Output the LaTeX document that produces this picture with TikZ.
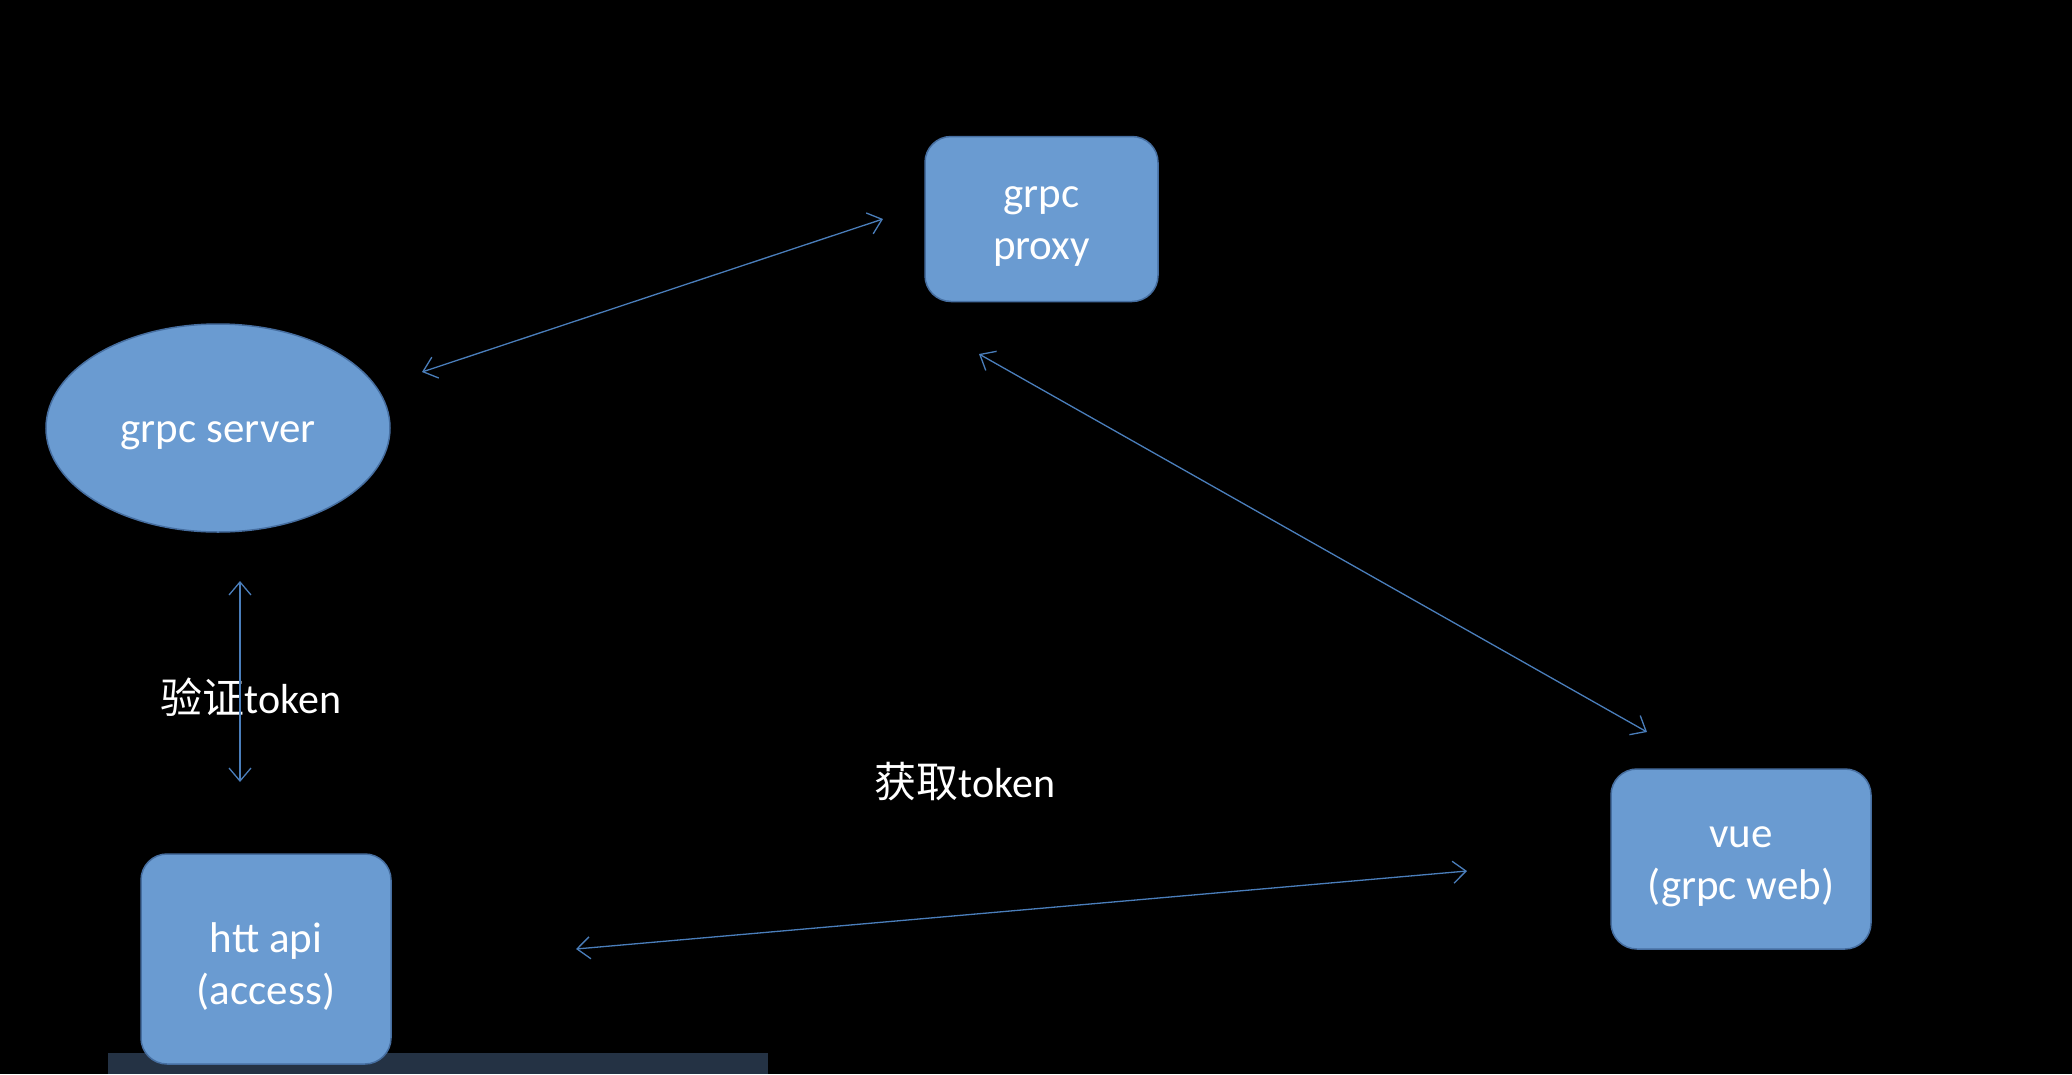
\documentclass[tikz,border=0pt]{standalone}
\usepackage{fontspec}
\setmainfont{Carlito}
\newfontfamily\cjk{Noto Sans CJK SC}
\usetikzlibrary{arrows.meta,shapes.geometric}
\definecolor{boxfill}{RGB}{106,155,209}
\definecolor{boxedge}{RGB}{70,110,160}
\definecolor{arrowc}{RGB}{74,126,187}
\definecolor{barc}{RGB}{36,50,68}
\tikzset{
  boxnode/.style={draw=boxedge, line width=1.5pt, fill=boxfill, rounded corners=26pt, inner sep=0pt},
  ellnode/.style={ellipse, draw=boxedge, line width=1.5pt, fill=boxfill, inner sep=0pt},
  intext/.style={text=white, align=center, font=\fontsize{43}{52}\selectfont, inner sep=0pt, yshift=-8pt},
  link/.style={draw=arrowc, line width=1.3pt, {Straight Barb[length=13pt,width=22pt]}-{Straight Barb[length=13pt,width=22pt]}},
  lbl/.style={text=white, font=\fontsize{42}{50}\selectfont, inner sep=0pt}
}
\begin{document}
\begin{tikzpicture}[x=1pt,y=-1pt]
\useasboundingbox (0,0) rectangle (2072,1074);
\fill[black] (0,0) rectangle (2072,1074);
\fill[barc] (108,1053) rectangle (768,1074);
\node[boxnode, minimum width=233pt, minimum height=165pt, label={[intext]center:{grpc\\proxy}}] (proxy) at (1041.5,219) {};
\node[ellnode, minimum width=344pt, minimum height=208pt, label={[intext]center:{grpc server}}] (server) at (218,428) {};
\node[boxnode, minimum width=250pt, minimum height=210pt, label={[intext]center:{htt api\\(access)}}] (htt) at (266,959) {};
\node[boxnode, minimum width=260pt, minimum height=180pt, label={[intext]center:{vue\\(grpc web)}}] (vue) at (1741,859) {};
\node[lbl] (l1) at (251,697) {{\cjk 验证}token};
\node[lbl] (l2) at (965,782) {{\cjk 获取}token};
\coordinate (a1) at (422,372);
\coordinate (a2) at (883,219);
\coordinate (b1) at (979,354);
\coordinate (b2) at (1647,732);
\coordinate (c1) at (240,581);
\coordinate (c2) at (240,782);
\coordinate (d1) at (576,949);
\coordinate (d2) at (1467,871);
\draw[link] (a1) -- (a2);
\draw[link] (b1) -- (b2);
\draw[link] (c1) -- (c2);
\draw[link] (d1) -- (d2);
\end{tikzpicture}
\end{document}
